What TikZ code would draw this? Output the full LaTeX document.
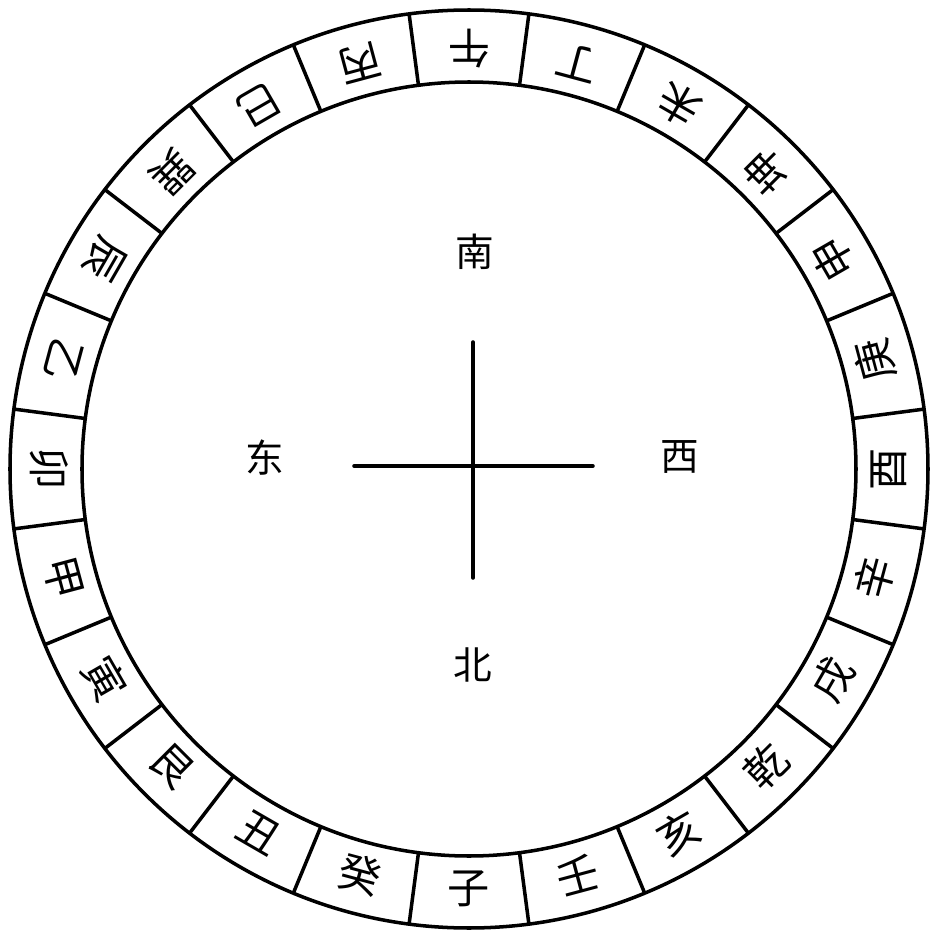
\documentclass[tikz,border=0pt]{standalone}
\usepackage{fontspec}
\newfontfamily\cjk{Noto Sans CJK SC}
\usetikzlibrary{positioning}

\begin{document}
\begin{tikzpicture}[
        line width=2pt,
        ring/.style={draw, line width=2pt},
        mtn/.style={font=\cjk\fontsize{24}{24}\selectfont, inner sep=0pt},
        dir/.style={font=\cjk\fontsize{22}{22}\selectfont, inner sep=0pt},
        arm/.style={line width=2pt, line cap=round}
    ]
    \useasboundingbox[fill=white] (-9.38,-9.52) rectangle (9.44,9.38);

    %% ---- the two rings ----
    \draw[ring] (0,0) circle (9.18);
    \draw[ring] (0,0) circle (7.74);

    %% ---- 24 mountains, from zi at the bottom, counter-clockwise ----
    \foreach \mname [count=\i from 0] in
        {子,壬,亥,乾,戌,辛,酉,庚,申,坤,未,丁,午,丙,巳,巽,辰,乙,卯,甲,寅,艮,丑,癸} {
        \pgfmathsetmacro\ang{-90+15*\i}
        \node[mtn, rotate=\ang+90] (m\i) at (\ang:8.4) {\mname};
        \draw[ring] (\ang-7.5:7.74) -- (\ang-7.5:9.18);
    }

    %% ---- centre cross and the four directions ----
    \coordinate (up)    at (0.08,2.54);
    \coordinate (down)  at (0.08,-2.18);
    \coordinate (left)  at (-2.30,0.06);
    \coordinate (right) at (2.48,0.06);
    \draw[arm] (up) -- (down);
    \draw[arm] (left) -- (right);

    \node[dir] (south) at (0.12,4.34)  {南};
    \node[dir] (north) at (0.08,-3.92) {北};
    \node[dir] (east)  at (-4.08,0.22) {东};
    \node[dir] (west)  at (4.22,0.24)  {西};
\end{tikzpicture}
\end{document}
